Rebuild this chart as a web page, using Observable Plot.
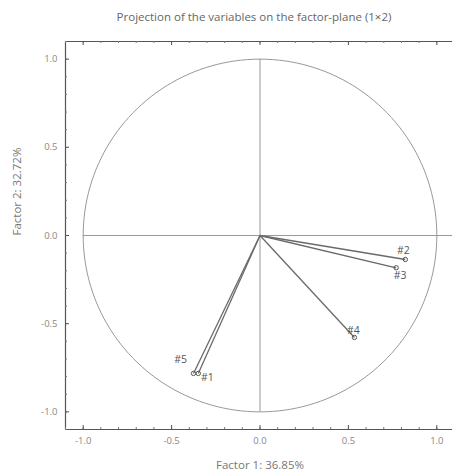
<!DOCTYPE html>
<html>
<head>
<meta charset="utf-8">
<script src="https://cdn.jsdelivr.net/npm/d3@7"></script>
<script src="https://cdn.jsdelivr.net/npm/@observablehq/plot@0.6"></script>
<style>
  html, body { margin: 0; padding: 0; background: #fff; overflow: hidden; }
  #wrap { position: relative; width: 452px; height: 474px; }
  #title { position: absolute; left: 0; width: 508px; top: 9px; text-align: center;
           font-family: "Open Sans", sans-serif; font-size: 11.5px; color: #666; }
  svg { font-family: "Open Sans", sans-serif; }
</style>
</head>
<body>
<div id="wrap"><div id="title">Projection of the variables on the factor-plane (1×2)</div></div>
<script>
const title = "Projection of the variables on the factor-plane (1×2)";
const xLabel = "Factor 1: 36.85%";
const yLabel = "Factor 2: 32.72%";
const variables = ["#1", "#2", "#3", "#4", "#5"];
const factor1 = [-0.349, 0.822, 0.770, 0.534, -0.376];
const factor2 = [-0.782, -0.136, -0.183, -0.578, -0.782];
const labelDx = [9, -2, 4, -1, -13];
const labelDy = [4, -9, 8, -7, -14];
const majorTicks = [-1.0, -0.5, 0.0, 0.5, 1.0];
const minorTicks = d3.range(-11, 12).map(i => i / 10);

const data = variables.map((v, i) => ({name: v, x: factor1[i], y: factor2[i]}));
const circle = d3.range(0, 361, 2).map(a => ({x: Math.cos(a * Math.PI / 180), y: Math.sin(a * Math.PI / 180)}));
const fmt = d => d.toFixed(1);
const frameW = 452 - 65, frameH = 429 - 41;

const chart = Plot.plot({
  width: 452,
  height: 474,
  marginLeft: 65,
  marginRight: 0,
  marginTop: 41,
  marginBottom: 45,
  x: {domain: [-1.1, 1.1], range: [65, 454], axis: null},
  y: {domain: [-1.1, 1.1], range: [429, 41], axis: null},
  style: {fontSize: "9.5px", fontFamily: "'Open Sans', sans-serif"},
  marks: [
    Plot.ruleY([0], {x1: -1, x2: 1.1, stroke: "#999", strokeWidth: 1}),
    Plot.ruleX([0], {y1: -1, y2: 1, stroke: "#999", strokeWidth: 1}),
    Plot.line(circle, {x: "x", y: "y", stroke: "#999", strokeWidth: 1}),
    Plot.ruleX([-1.1], {stroke: "#555", strokeWidth: 1.2}),
    Plot.ruleY([1.1, -1.1], {stroke: "#555", strokeWidth: 1.2}),
    Plot.ruleX(minorTicks, {x: d => d, insetTop: frameH - 2, stroke: "#777"}),
    Plot.ruleX(minorTicks, {x: d => d, insetBottom: frameH - 2, stroke: "#777"}),
    Plot.ruleY(minorTicks, {y: d => d, insetRight: frameW - 2, stroke: "#777"}),
    Plot.ruleX(majorTicks, {x: d => d, insetTop: frameH - 4, stroke: "#555"}),
    Plot.ruleX(majorTicks, {x: d => d, insetBottom: frameH - 4, stroke: "#555"}),
    Plot.ruleY(majorTicks, {y: d => d, insetRight: frameW - 4, stroke: "#555"}),
    Plot.text(majorTicks, {x: d => d, frameAnchor: "bottom", dy: 14, text: d => fmt(d), fill: "#888"}),
    Plot.text(majorTicks, {y: d => d, frameAnchor: "left", dx: -8, textAnchor: "end", text: d => fmt(d), fill: "#888"}),
    Plot.text([xLabel], {x: 0, frameAnchor: "bottom", dy: 39, text: d => d, fill: "#777", fontSize: 11.5}),
    Plot.text([yLabel], {frameAnchor: "left", dx: -48, rotate: -90, text: d => d, fill: "#777", fontSize: 11.5}),
    Plot.link(data, {x1: 0, y1: 0, x2: "x", y2: "y", stroke: "#6a6a6a", strokeWidth: 1.3}),
    Plot.dot(data, {x: "x", y: "y", r: 2.2, stroke: "#555", strokeWidth: 1, fill: "none"}),
    ...data.map((d, i) => Plot.text([d], {x: "x", y: "y", text: "name", dx: labelDx[i], dy: labelDy[i], fill: "#555", fontSize: 10.5}))
  ]
});
document.getElementById("wrap").appendChild(chart);
document.getElementById("title").textContent = title;
</script>
</body>
</html>
